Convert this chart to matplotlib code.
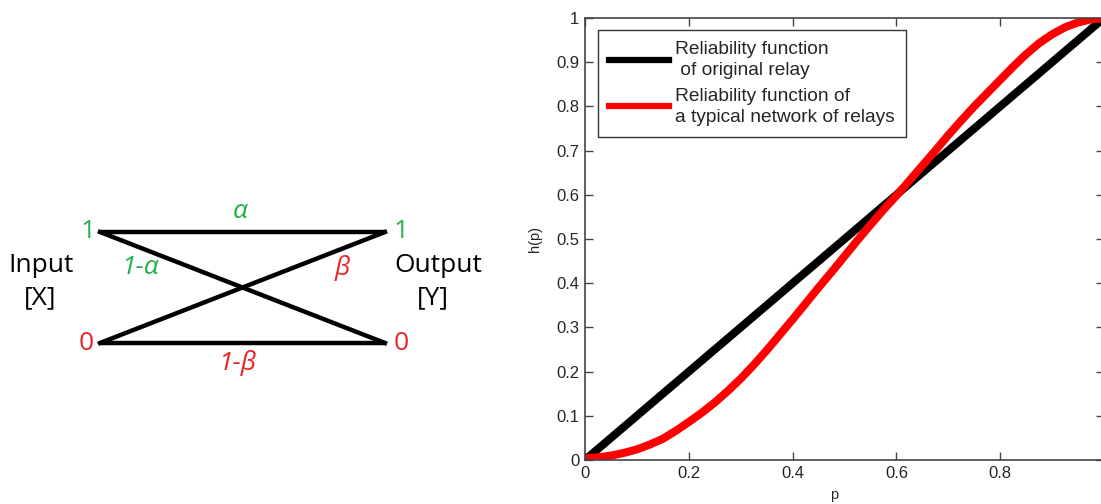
import matplotlib
matplotlib.use("Agg")
import matplotlib.pyplot as plt

# reliability curves
p_relay = [0.0, 0.25, 0.5, 0.75, 1.0]
h_relay = [0.0, 0.25, 0.5, 0.75, 1.0]

p_network = [0.0, 0.025, 0.05, 0.075, 0.1, 0.125, 0.15, 0.175, 0.2, 0.225,
             0.25, 0.275, 0.3, 0.325, 0.35, 0.375, 0.4, 0.425, 0.45, 0.475,
             0.5, 0.525, 0.55, 0.575, 0.6, 0.625, 0.65, 0.675, 0.7, 0.725,
             0.75, 0.775, 0.8, 0.825, 0.85, 0.875, 0.9, 0.925, 0.95, 0.975, 1.0]
h_network = [0.004, 0.006, 0.01, 0.016, 0.024, 0.035, 0.048, 0.066, 0.086, 0.107,
             0.13, 0.156, 0.184, 0.215, 0.248, 0.283, 0.318, 0.354, 0.39, 0.425,
             0.461, 0.497, 0.532, 0.566, 0.598, 0.632, 0.666, 0.70, 0.735, 0.768,
             0.80, 0.83, 0.86, 0.89, 0.918, 0.943, 0.963, 0.979, 0.99, 0.997, 1.0]

labels = ["Reliability function\n of original relay",
          "Reliability function of\na typical network of relays"]
yticks = [0, 0.1, 0.2, 0.3, 0.4, 0.5, 0.6, 0.7, 0.8, 0.9, 1]
ytick_labels = ["0", "0.1", "0.2", "0.3", "0.4", "0.5", "0.6", "0.7", "0.8", "0.9", "1"]
xticks = [0, 0.2, 0.4, 0.6, 0.8, 1]
xtick_labels = ["0", "0.2", "0.4", "0.6", "0.8", ""]  # "1" falls off the image

green = "#22b14c"
red = "#e8262a"


def draw_channel(ax):
    # binary channel sketch, coordinates in pixels of the left half
    ax.set_xlim(0, 550.5)
    ax.set_ylim(504, 0)
    ax.axis("off")
    fnt = dict(family="Open Sans", fontsize=19)
    lw = 3.2
    ax.plot([100, 385], [232, 232], color="black", lw=lw, solid_capstyle="butt")
    ax.plot([100, 385], [343, 343], color="black", lw=lw, solid_capstyle="butt")
    ax.plot([100, 385], [232, 343], color="black", lw=lw)
    ax.plot([100, 385], [343, 232], color="black", lw=lw)

    ax.text(88, 232, "1", color=green, ha="center", va="center", **fnt)
    ax.text(86, 343, "0", color=red, ha="center", va="center", **fnt)
    ax.text(401, 232, "1", color=green, ha="center", va="center", **fnt)
    ax.text(401, 343, "0", color=red, ha="center", va="center", **fnt)

    ax.text(240, 212, "α", color=green, ha="center", va="center", style="italic", **fnt)
    ax.text(140, 268, "1-α", color=green, ha="center", va="center", style="italic", **fnt)
    ax.text(342, 268, "β", color=red, ha="center", va="center", style="italic", **fnt)
    ax.text(237, 363, "1-β", color=red, ha="center", va="center", style="italic", **fnt)

    ax.text(41, 265, "Input", color="black", ha="center", va="center", **fnt)
    ax.text(40, 298, "[X]", color="black", ha="center", va="center", **fnt)
    ax.text(438, 265, "Output", color="black", ha="center", va="center", **fnt)
    ax.text(433, 298, "[Y]", color="black", ha="center", va="center", **fnt)


def main():
    fig = plt.figure(figsize=(11.01, 5.04), dpi=100)

    ax0 = fig.add_axes([0, 0, 0.5, 1])
    draw_channel(ax0)

    W, H = 1101, 504
    left, right, top, bottom = 585, 1104, 18, 460
    ax = fig.add_axes([left / W, (H - bottom) / H, (right - left) / W, (bottom - top) / H])
    ax.plot(p_relay, h_relay, color="black", lw=5.8, label=labels[0])
    ax.plot(p_network, h_network, color="#ff0000", lw=5.8, label=labels[1])
    ax.set_xlim(0, 1)
    ax.set_ylim(0, 1)

    txt = "#262626"
    ax.set_yticks(yticks)
    ax.set_yticklabels(ytick_labels)
    ax.set_xticks(xticks)
    ax.set_xticklabels(xtick_labels)
    ax.tick_params(direction="in", length=6, width=1, color="#444444",
                   top=True, right=True, labelsize=12, labelcolor=txt, pad=4)
    for lab in ax.get_xticklabels() + ax.get_yticklabels():
        lab.set_family("Liberation Sans")
    for s in ax.spines.values():
        s.set_color("#444444")
        s.set_linewidth(1.2)

    ax.set_xlabel("p", fontsize=10.5, color=txt, family="Liberation Sans")
    ax.set_ylabel("h(p)", fontsize=10.5, color=txt, family="Liberation Sans")
    ax.xaxis.set_label_coords(0.48, -0.064)
    ax.yaxis.set_label_coords(-0.083, 0.5)

    leg = ax.legend(loc="upper left", bbox_to_anchor=(598 / W, 1 - 30 / H),
                    bbox_transform=fig.transFigure, borderaxespad=0,
                    prop={"family": "Liberation Sans", "size": 13.8},
                    handlelength=3.1, handletextpad=0.32, labelspacing=0.45,
                    borderpad=0.58, fancybox=False, framealpha=1)
    leg.get_frame().set_edgecolor("#333333")
    leg.get_frame().set_linewidth(1.0)
    for t in leg.get_texts():
        t.set_color(txt)
        t.set_linespacing(1.3)
    for ln in leg.get_lines():
        ln.set_linewidth(4.5)

    fig.savefig("out.png", dpi=100)


if __name__ == "__main__":
    main()
